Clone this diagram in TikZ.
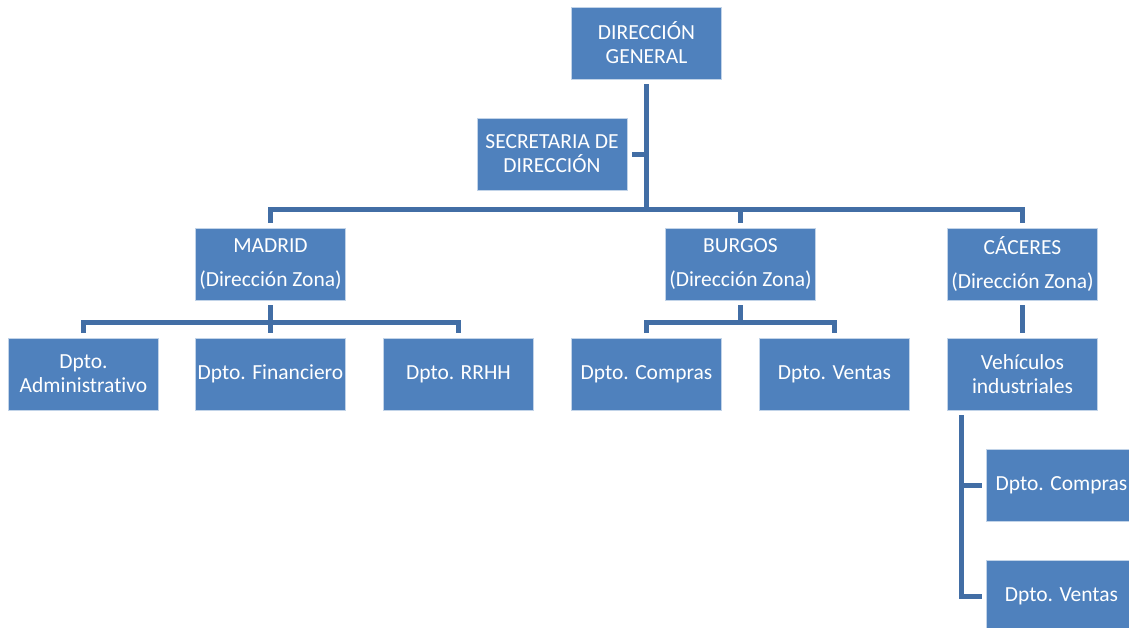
\documentclass[tikz,border=0pt]{standalone}
\usepackage{fontspec}
\setmainfont{Carlito}[Ligatures=NoCommon]
\definecolor{boxblue}{RGB}{79,129,189}
\definecolor{lineblue}{RGB}{66,110,165}
\tikzset{
  unit/.style={rectangle, fill=boxblue, draw=white!65!boxblue, line width=0.8pt,
    text=white, minimum width=150pt, minimum height=72pt, align=center,
    inner sep=2pt, outer sep=5pt, font=\fontsize{21.5}{24}\selectfont},
  link/.style={draw=lineblue, line width=5pt}
}
\begin{document}
\begin{tikzpicture}[x=1pt,y=-1pt]
  \useasboundingbox (0,0) rectangle (1129,627);
  \clip (0,0) rectangle (1129,627);

  % top level
  \node[unit] (dg) at (646.5,43) {DIRECCIÓN\\GENERAL};
  \node[unit] (sec) at (552,154) {SECRETARIA DE\\DIRECCIÓN};

  % zones
  \node[unit] (mad) at (270.5,264) {MADRID\\[10pt](Dirección Zona)};
  \node[unit] (bur) at (740.5,264) {BURGOS\\[10pt](Dirección Zona)};
  \node[unit] (cac) at (1022.5,264) {CÁCERES\\[10pt](Dirección Zona)};

  % departments
  \node[unit] (adm) at (83.5,374) {Dpto.\\Administrativo};
  \node[unit] (fin) at (270.5,374) {Dpto. Financiero};
  \node[unit] (rrhh) at (458.5,374) {Dpto. RRHH};
  \node[unit] (bcom) at (646.5,374) {Dpto. Compras};
  \node[unit] (bven) at (834.5,374) {Dpto. Ventas};
  \node[unit] (veh) at (1022.5,374) {Vehículos\\industriales};
  \node[unit] (ccom) at (1061.5,485) {Dpto. Compras};
  \node[unit] (cven) at (1061.5,596) {Dpto. Ventas};

  % connectors
  \coordinate (bus) at (646.5,209);
  \coordinate (madbus) at (270.5,322);
  \coordinate (burbus) at (740.5,322);
  \coordinate (spine) at (961,410);

  \draw[link] (dg.south) -- (bus);
  \draw[link] (sec.east) -- (sec.east -| bus);
  \draw[link] (mad.north) |- (bus) -| (cac.north);
  \draw[link] (bur.north) -- (bur.north |- bus);

  \draw[link] (mad.south) -- (fin.north);
  \draw[link] (adm.north) |- (madbus) -| (rrhh.north);
  \draw[link] (bur.south) -- (burbus);
  \draw[link] (bcom.north) |- (burbus) -| (bven.north);
  \draw[link] (cac.south) -- (veh.north);
  \draw[link] (veh.south -| spine) |- (ccom.west);
  \draw[link] (veh.south -| spine) |- (cven.west);
\end{tikzpicture}
\end{document}
